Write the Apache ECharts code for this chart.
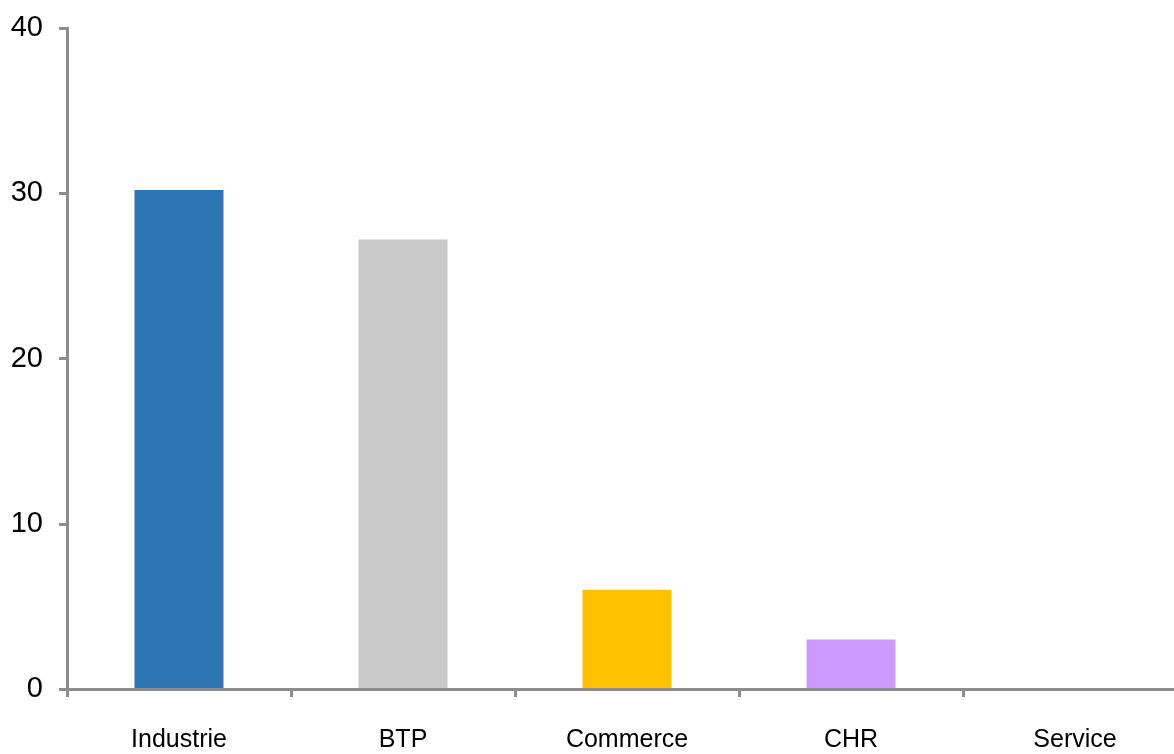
<!DOCTYPE html>
<html>
<head>
<meta charset="utf-8">
<script src="https://cdn.jsdelivr.net/npm/echarts@6/dist/echarts.min.js"></script>
<style>html,body{margin:0;padding:0;background:#fff;overflow:hidden;width:1174px;height:754px}#c{width:1188px;height:754px}</style>
</head>
<body>
<div id="c"></div>
<script>
const categories = ['Industrie', 'BTP', 'Commerce', 'CHR', 'Service'];
const values = [30.2, 27.2, 6.0, 3.0, 0];
const barColors = ['#2E75B6', '#C9C9C9', '#FFC000', '#CC99FF', '#A5A5A5'];
const yTicks = { min: 0, max: 40, interval: 10 };

const chart = echarts.init(document.getElementById('c'));
const axisColor = '#8C8C8C';
const font = '"Liberation Sans", Arial, sans-serif';
chart.setOption({
  animation: false,
  backgroundColor: '#fff',
  grid: { left: 67, top: 28, bottom: 65, right: 1, containLabel: false },
  xAxis: {
    type: 'category',
    data: categories,
    boundaryGap: true,
    axisLine: { show: true, lineStyle: { color: axisColor, width: 3 } },
    axisTick: { show: true, length: 8, lineStyle: { color: axisColor, width: 3 } },
    axisLabel: { color: '#000', fontFamily: font, fontSize: 25, margin: 39 },
    z: 10
  },
  yAxis: {
    type: 'value',
    min: yTicks.min, max: yTicks.max, interval: yTicks.interval,
    axisLine: { show: true, lineStyle: { color: axisColor, width: 3 } },
    axisTick: { show: true, length: 8, lineStyle: { color: axisColor, width: 3 } },
    splitLine: { show: false },
    axisLabel: { color: '#000', fontFamily: font, fontSize: 29, margin: 24 }
  },
  series: [{
    type: 'bar',
    barWidth: 89,
    data: values.map((v, i) => ({ value: v, itemStyle: { color: barColors[i] } })),
    z: 2
  }]
});
</script>
</body>
</html>
